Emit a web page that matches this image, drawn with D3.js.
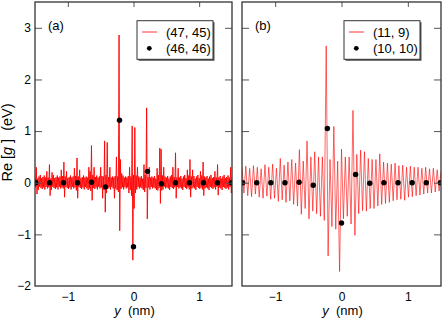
<!DOCTYPE html>
<html><head><meta charset="utf-8">
<script src="https://cdn.jsdelivr.net/npm/d3@7"></script>
<style>
html,body{margin:0;padding:0;background:#fff;}
svg{display:block;}
text{font-family:"Liberation Sans",Arial,sans-serif;fill:#000;}
</style></head>
<body>
<svg id="c" width="443" height="319"></svg>
<script>
// ---------- data ----------
const xTicks = [-1, 0, 1];
const yTicks = [-2, -1, 0, 1, 2, 3];
const xDomain = [-1.5, 1.5];
const yDomain = [-2, 3.5];
const panelLabels = ["(a)", "(b)"];
const lineNames = ["(47, 45)", "(11, 9)"];
const dotNames = ["(46, 46)", "(10, 10)"];

// sampled curve (47, 45): start -1.5 nm, step 0.01 nm
const startA = -1.5, stepA = 0.01;
const valuesA = [
0.10,-0.09,0.30,-0.22,0.08,-0.14,0.12,-0.08,0.15,-0.10,
0.09,-0.12,0.11,-0.09,0.14,-0.13,0.10,-0.08,0.22,-0.11,
0.10,-0.09,0.35,-0.25,0.08,-0.14,0.20,-0.08,0.15,-0.10,
0.09,-0.12,0.11,-0.09,0.14,-0.13,0.10,-0.08,0.12,-0.11,
0.25,-0.09,0.13,-0.11,0.40,-0.28,0.12,-0.08,0.22,-0.10,
0.09,-0.12,0.11,-0.09,0.14,-0.13,0.10,-0.08,0.12,-0.11,
0.28,-0.09,0.13,-0.15,0.48,-0.30,0.12,-0.08,0.25,-0.10,
0.09,-0.12,0.11,-0.09,0.14,-0.13,0.10,-0.08,0.12,-0.11,
0.10,-0.14,0.30,-0.11,0.22,-0.16,0.72,-0.34,0.15,-0.10,
0.30,-0.12,0.11,-0.09,0.14,-0.13,0.10,-0.08,0.12,-0.11,
0.30,-0.09,0.13,-0.30,0.12,-0.14,0.81,-0.57,0.15,-0.20,
0.78,-0.12,0.11,-0.09,0.30,-0.13,0.10,-0.08,0.12,-0.11,
0.10,-0.30,0.13,-0.11,0.50,-0.14,0.12,-0.18,2.86,-0.93,
0.45,-0.12,0.18,-0.09,0.14,-0.13,0.10,-0.08,0.12,-0.11,
0.10,-0.09,0.13,-0.20,0.30,-0.14,0.12,-0.25,1.10,-1.50,
0.15,-0.50,1.07,-0.20,0.14,-0.13,0.30,-0.08,0.12,-0.11,
0.10,-0.09,0.13,-0.11,0.08,-0.14,0.35,-0.18,0.15,-0.10,
1.45,-0.70,0.11,-0.09,0.30,-0.13,0.10,-0.08,0.12,-0.11,
0.10,-0.09,0.13,-0.11,0.08,-0.14,0.28,-0.15,0.15,-0.10,
0.67,-0.40,0.65,-0.15,0.14,-0.13,0.30,-0.08,0.12,-0.11,
0.10,-0.09,0.13,-0.11,0.08,-0.14,0.12,-0.08,0.15,-0.10,
0.30,-0.12,0.11,-0.09,0.58,-0.30,0.10,-0.08,0.28,-0.11,
0.10,-0.09,0.13,-0.11,0.08,-0.14,0.12,-0.08,0.15,-0.10,
0.09,-0.12,0.25,-0.09,0.14,-0.13,0.45,-0.28,0.12,-0.11,
0.25,-0.09,0.13,-0.11,0.08,-0.14,0.12,-0.08,0.15,-0.10,
0.09,-0.12,0.22,-0.09,0.14,-0.13,0.40,-0.25,0.12,-0.11,
0.10,-0.09,0.13,-0.11,0.08,-0.14,0.12,-0.08,0.15,-0.10,
0.09,-0.12,0.11,-0.09,0.22,-0.13,0.10,-0.08,0.35,-0.24,
0.10,-0.09,0.13,-0.11,0.08,-0.14,0.12,-0.08,0.15,-0.10,
0.09,-0.12,0.11,-0.09,0.14,-0.13,0.10,-0.08,0.30,-0.20,
0.10
];

// sampled curve (11, 9): start -1.5 nm, step 3/104 nm
const startB = -1.5, stepB = 3 / 104;
const valuesB = [
0.30,-0.20,0.32,-0.25,0.28,-0.27,0.33,-0.22,0.30,-0.28,
0.27,-0.30,0.35,-0.26,0.30,-0.32,0.36,-0.30,0.28,-0.36,
0.47,-0.33,0.34,-0.38,0.40,-0.35,0.45,-0.42,0.38,-0.45,
0.64,-0.61,0.42,-0.50,0.81,-0.70,0.50,-0.55,0.60,-0.60,
0.50,-0.65,0.50,-0.73,2.65,-1.42,0.45,-0.85,1.09,-0.90,
0.42,-1.72,0.65,-0.70,0.50,-0.65,0.50,-0.80,1.40,-1.02,
0.55,-0.60,0.63,-0.54,0.60,-0.55,0.47,-0.50,0.45,-0.50,
0.45,-0.45,0.56,-0.42,0.40,-0.40,0.38,-0.38,0.36,-0.35,
0.38,-0.33,0.33,-0.32,0.34,-0.34,0.30,-0.28,0.32,-0.27,
0.30,-0.25,0.30,-0.24,0.28,-0.22,0.30,-0.20,0.27,-0.20,
0.28,-0.18,0.25,-0.16,0.22
];

// dotted series
const dotX = [-1.49,-1.278,-1.065,-0.852,-0.639,-0.426,-0.213,0,0.213,0.426,0.639,0.852,1.065,1.278,1.49];
const dotsA = [0,0,0,0,0.01,-0.08,1.21,-1.24,0.22,-0.02,0,0,0,0,0];
const dotsB = [0,0,0,0,0.01,-0.05,1.05,-0.78,0.16,-0.01,0,0,0,0,0];

// ---------- drawing ----------
const svg = d3.select("#c");
const plotTop = 2, plotBottom = 286;
const panels = [
  {x0: 35, x1: 232, start: startA, step: stepA, vals: valuesA, dots: dotsA, leftLabels: true, sw: 0.9},
  {x0: 242, x1: 441, start: startB, step: stepB, vals: valuesB, dots: dotsB, leftLabels: false, sw: 0.6}
];
const y = d3.scaleLinear().domain(yDomain).range([plotBottom, plotTop]);
const red = "#ff0000", frameCol = "#333", tickCol = "#555", tickLen = 7;

panels.forEach((p, pi) => {
  const x = d3.scaleLinear().domain(xDomain).range([p.x0, p.x1]);
  const g = svg.append("g");
  const clipId = "clip" + pi;
  svg.append("clipPath").attr("id", clipId).append("rect")
    .attr("x", p.x0).attr("y", plotTop).attr("width", p.x1 - p.x0).attr("height", plotBottom - plotTop);

  // curve
  const pts = p.vals.map((v, i) => [p.start + i * p.step, v]);
  g.append("path").datum(pts)
    .attr("clip-path", `url(#${clipId})`)
    .attr("fill", "none").attr("stroke", red).attr("stroke-width", p.sw)
    .attr("d", d3.line().x(d => x(d[0])).y(d => y(d[1])));

  // dots
  g.append("g").attr("clip-path", `url(#${clipId})`).selectAll("circle")
    .data(dotX.map((dx, i) => [dx, p.dots[i]])).join("circle")
    .attr("cx", d => x(d[0])).attr("cy", d => y(d[1])).attr("r", 2.7).attr("fill", "#000");

  // axes (inward ticks)
  const axL = g.append("g").attr("transform", `translate(${p.x0},0)`)
    .call(d3.axisRight(y).tickValues(yTicks.slice(1)).tickSize(tickLen).tickFormat(""));
  const axR = g.append("g").attr("transform", `translate(${p.x1},0)`)
    .call(d3.axisLeft(y).tickValues(yTicks.slice(1)).tickSize(tickLen).tickFormat(""));
  const axT = g.append("g").attr("transform", `translate(0,${plotTop})`)
    .call(d3.axisBottom(x).tickValues(xTicks).tickSize(tickLen - 2).tickFormat(""));
  const axB = g.append("g").attr("transform", `translate(0,${plotBottom})`)
    .call(d3.axisBottom(x).tickValues(xTicks).tickSize(0).tickPadding(6).tickFormat(d3.format("d")));
  [axL, axR, axT, axB].forEach(a => {
    a.select(".domain").remove();
    a.selectAll(".tick line").attr("stroke", tickCol).attr("stroke-width", 1);
  });
  axB.selectAll(".tick text").attr("font-size", 12).attr("font-family", "Liberation Sans, Arial, sans-serif").attr("fill", "#000");

  if (p.leftLabels) {
    g.append("g").selectAll("text").data(yTicks).join("text")
      .attr("x", p.x0 - 4).attr("y", d => y(d)).attr("dy", "0.35em")
      .attr("text-anchor", "end").attr("font-size", 12).text(d => d3.format("d")(d));
  }

  // frame
  g.append("rect").attr("x", p.x0).attr("y", plotTop).attr("width", p.x1 - p.x0).attr("height", plotBottom - plotTop)
    .attr("fill", "none").attr("stroke", frameCol).attr("stroke-width", 1.3);

  // panel label
  g.append("text").attr("x", p.x0 + 13).attr("y", 29.5).attr("font-size", 13).text(panelLabels[pi]);

  // legend
  const lx = p.x0 + 102, ly = 20.7, lw = 76, lh = 38.6;
  g.append("rect").attr("x", lx + 1.5).attr("y", ly + 1.5).attr("width", lw).attr("height", lh).attr("fill", "#555");
  g.append("rect").attr("x", lx).attr("y", ly).attr("width", lw).attr("height", lh)
    .attr("fill", "#fff").attr("stroke", frameCol).attr("stroke-width", 1);
  g.append("line").attr("x1", lx + 5).attr("x2", lx + 20).attr("y1", 32).attr("y2", 32)
    .attr("stroke", red).attr("stroke-width", 0.8);
  g.append("circle").attr("cx", lx + 12.3).attr("cy", 48.3).attr("r", 2.4).attr("fill", "#000");
  g.append("text").attr("x", lx + 29).attr("y", 36.5).attr("font-size", 13).text(lineNames[pi]);
  g.append("text").attr("x", lx + 29).attr("y", 52.5).attr("font-size", 13).text(dotNames[pi]);

  // x title
  const xt = g.append("text").attr("x", (p.x0 + p.x1) / 2 + 1).attr("y", 314.5)
    .attr("text-anchor", "middle").attr("font-size", 13).style("white-space", "pre");
  xt.append("tspan").attr("font-style", "italic").text("y");
  xt.append("tspan").text("  (nm)");
});

// y title
const yt = svg.append("text").attr("transform", "translate(12,142.5) rotate(-90)")
  .attr("text-anchor", "middle").attr("font-size", 14.5).style("white-space", "pre");
yt.append("tspan").text("Re [");
yt.append("tspan").attr("font-style", "italic").text("g");
yt.append("tspan").text(" ]  (eV)");
</script>
</body></html>
